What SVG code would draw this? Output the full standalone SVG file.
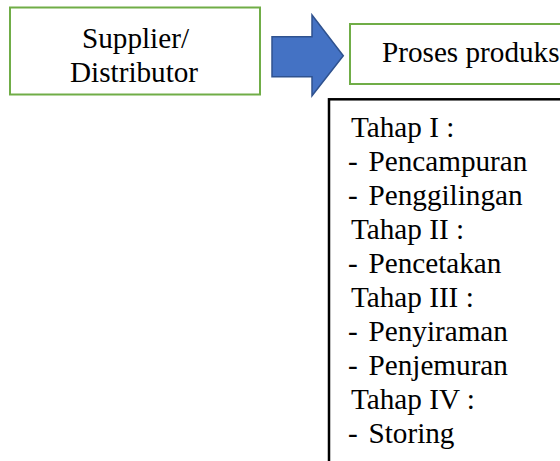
<svg xmlns="http://www.w3.org/2000/svg" width="560" height="461" viewBox="0 0 560 461">
  <style>
    .green { fill: #FFFFFF; stroke: #70AD47; stroke-width: 2; }
    .black { fill: #FFFFFF; stroke: #000000; stroke-width: 2.5; }
    .t { font-family: "Liberation Serif", "Times New Roman", serif; font-size: 29.2px; fill: #000000; }
    .arrow { fill: #4472C4; stroke: #2F528F; stroke-width: 1.5; stroke-linejoin: miter; }
  </style>
  <rect width="560" height="461" fill="#FFFFFF"/>
  <g id="connectors">
    <polygon class="arrow" points="272,36.7 312,36.7 312,15 343.3,55.7 312,95.7 312,76.7 272,76.7"/>
  </g>
  <g id="supplier">
    <rect class="green" x="10" y="7.5" width="250" height="87"/>
    <text class="t" x="82" y="47.5">Supplier/</text>
    <text class="t" x="70" y="81.7">Distributor</text>
  </g>
  <g id="proses">
    <rect class="green" x="350" y="24" width="240" height="60"/>
    <text class="t" x="382" y="61.7">Proses produks</text>
  </g>
  <g id="tahap">
    <rect class="black" x="329" y="99.3" width="260" height="400"/>
    <text class="t" x="351" y="137">Tahap I :</text>
    <text class="t" x="348" y="171">-</text><text class="t" x="368.5" y="171">Pencampuran</text>
    <text class="t" x="348" y="205">-</text><text class="t" x="368.5" y="205">Penggilingan</text>
    <text class="t" x="351" y="239">Tahap II :</text>
    <text class="t" x="348" y="273">-</text><text class="t" x="368.5" y="273">Pencetakan</text>
    <text class="t" x="351" y="307">Tahap III :</text>
    <text class="t" x="348" y="341">-</text><text class="t" x="368.5" y="341">Penyiraman</text>
    <text class="t" x="348" y="375">-</text><text class="t" x="368.5" y="375">Penjemuran</text>
    <text class="t" x="351" y="409">Tahap IV :</text>
    <text class="t" x="348" y="443">-</text><text class="t" x="368.5" y="443">Storing</text>
  </g>
</svg>
